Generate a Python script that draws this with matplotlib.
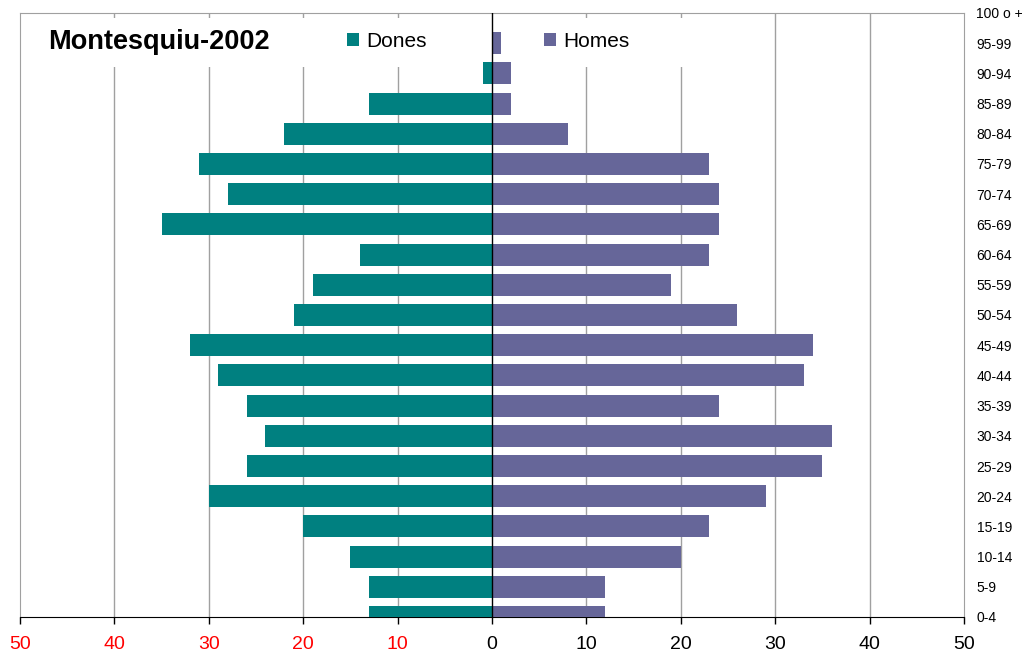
import numpy as np
import matplotlib
matplotlib.use("Agg")
import matplotlib.pyplot as plt
from matplotlib.patches import Rectangle

# dades de la piràmide (Montesquiu, 2002)
grups = ["0-4", "5-9", "10-14", "15-19", "20-24", "25-29", "30-34", "35-39",
         "40-44", "45-49", "50-54", "55-59", "60-64", "65-69", "70-74",
         "75-79", "80-84", "85-89", "90-94", "95-99", "100 o +"]
dones = [13, 13, 15, 20, 30, 26, 24, 26, 29, 32, 21, 19, 14, 35, 28, 31, 22, 13, 1, 0, 0]
homes = [12, 12, 20, 23, 29, 35, 36, 24, 33, 34, 26, 19, 23, 24, 24, 23, 8, 2, 2, 1, 0]
ticks_x = [-50, -40, -30, -20, -10, 0, 10, 20, 30, 40, 50]
ticks_txt = ["50", "40", "30", "20", "10", "0", "10", "20", "30", "40", "50"]

plt.rcParams['font.family'] = ['Liberation Sans Narrow', 'Liberation Sans', 'DejaVu Sans']

fig = plt.figure(figsize=(10.27, 6.61), dpi=100)
ax = fig.add_axes([20/1027, 44/661, 944/1027, 604/661])

y = np.arange(len(grups))
b1 = ax.barh(y, -np.array(dones), height=0.73, color="#008080", label="Dones", zorder=3)
b2 = ax.barh(y, homes, height=0.73, color="#666699", label="Homes", zorder=3)

ax.set_xlim(-50, 50)
ax.set_ylim(0, 20)

# línies verticals
for t in ticks_x:
    if t not in (-50, 0, 50):
        ax.axvline(t, color="#a0a0a0", lw=1, zorder=1)
ax.axvline(0, color="black", lw=1, zorder=4)

# fons blanc sota títol i llegenda
ax.add_patch(Rectangle((-47, 18.2), 73, 1.62, facecolor="white", edgecolor="none", zorder=2))

ax.set_xticks(ticks_x)
ax.set_xticklabels(ticks_txt, fontsize=14)
for lab, t in zip(ax.get_xticklabels(), ticks_x):
    lab.set_color("red" if t < 0 else "black")
ax.tick_params(axis="x", direction="out", length=5, width=1, pad=9, color="black")

ax.set_yticks(y)
ax.set_yticklabels(grups, fontsize=10)
ax.yaxis.tick_right()
ax.tick_params(axis="y", length=0, pad=9)

for s in ["top", "right", "left"]:
    ax.spines[s].set_color("#a0a0a0")
ax.spines["bottom"].set_color("black")

ax.text(-47.0, 19.05, "Montesquiu-2002", fontsize=19.5, fontweight="bold", va="center", ha="left", zorder=5)

ax.legend(handles=[b1, b2], loc="center left", bbox_to_anchor=(0.3375, 0.953), ncol=2,
          frameon=False, fontsize=15, handlelength=0.6, handleheight=0.6,
          handletextpad=0.35, columnspacing=5.6, borderaxespad=0)

fig.savefig("out.png", dpi=100)
